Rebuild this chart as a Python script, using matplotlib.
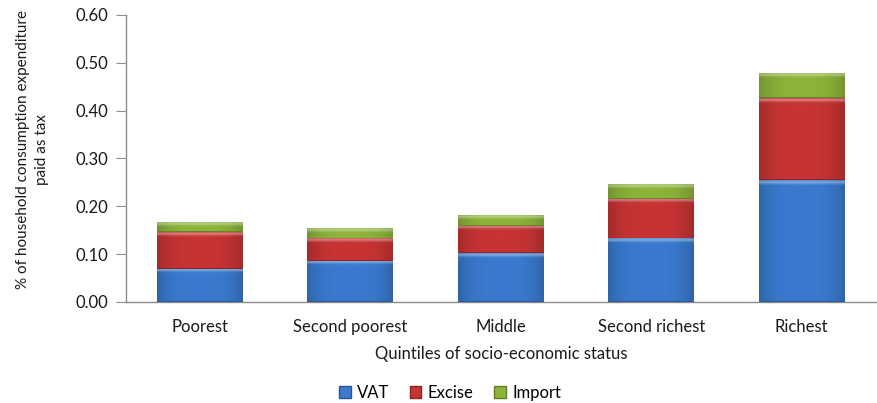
import matplotlib.pyplot as plt
import matplotlib.colors as mcolors
import numpy as np
from matplotlib.patches import Patch

plt.rcParams['font.family'] = ['Lato', 'DejaVu Sans']

quintiles = ['Poorest', 'Second poorest', 'Middle', 'Second richest', 'Richest']
vat = [0.070, 0.086, 0.102, 0.133, 0.255]
excise = [0.076, 0.047, 0.057, 0.082, 0.171]
imports = [0.020, 0.019, 0.022, 0.030, 0.052]

series = [('VAT', vat, '#3a7bd0'),
          ('Excise', excise, '#c83434'),
          ('Import', imports, '#8cb43a')]

fig = plt.figure(figsize=(8.77, 4.03), dpi=100)
ax = fig.add_axes([126 / 877, 101 / 403, 751 / 877, 287 / 403])

width = 0.57
x = np.arange(len(quintiles))


def shaded_bar(ax, xc, bottom, height, color):
    """Bar segment with a soft bevel: dark sides, light top edge."""
    rgb = np.array(mcolors.to_rgb(color))
    left = xc - width / 2
    # shading: darker toward both sides, soft light band at the top
    tx = np.linspace(-1, 1, 64)
    side = 1.0 - 0.18 * np.abs(tx) ** 3
    ny = 80
    ty = np.linspace(0, 1, ny)  # 0 = top row
    top_px = 0.006 / height  # thickness of top band as fraction of segment
    light = 0.35 * np.exp(-((ty - top_px * 0.5) / (top_px * 0.6)) ** 2)
    img = rgb[None, None, :] * side[None, :, None]
    img = img + (1 - img) * light[:, None, None]
    ax.imshow(np.clip(img, 0, 1),
              extent=(left, left + width, bottom, bottom + height),
              aspect='auto', interpolation='bilinear', zorder=2)
    # darker bottom line
    ax.bar(xc, 0.0018, width, bottom, color=rgb * 0.72, linewidth=0, zorder=3)


bottoms = np.zeros(len(quintiles))
for name, vals, col in series:
    for xi, b, v in zip(x, bottoms, vals):
        shaded_bar(ax, xi, b, v, col)
    bottoms += np.array(vals)

ax.set_xlim(-0.49, 4.5)
ax.set_ylim(0, 0.60)
ax.set_yticks(np.arange(0, 0.61, 0.10))
ax.set_yticklabels([f'{v:.2f}' for v in np.arange(0, 0.61, 0.10)])
ax.set_xticks(x)
ax.set_xticklabels(quintiles)

for s in ['top', 'right']:
    ax.spines[s].set_visible(False)
for s in ['left', 'bottom']:
    ax.spines[s].set_color('#8c8c8c')
    ax.spines[s].set_linewidth(1.0)
ax.tick_params(axis='y', direction='out', length=7, color='#8c8c8c',
               labelsize=12, pad=6, labelcolor='#1a1a1a')
ax.tick_params(axis='x', length=0, labelsize=12, pad=12, labelcolor='#1a1a1a')

ax.set_xlabel('Quintiles of socio-economic status', fontsize=12,
              labelpad=8, color='#1a1a1a')
ax.set_ylabel('% of household consumption expenditure\npaid as tax',
              fontsize=11, color='#1a1a1a', linespacing=1.45)
ax.yaxis.set_label_coords(-0.103, 0.53)

handles = [Patch(facecolor=c, edgecolor=np.array(mcolors.to_rgb(c)) * 0.7, label=n)
           for n, _, c in series]
fig.legend(handles=handles, loc='center', bbox_to_anchor=(450 / 877, 1 - 393 / 403),
           ncol=3, frameon=False, fontsize=12, handlelength=0.7, handleheight=0.7,
           handletextpad=0.4, columnspacing=1.2)

fig.savefig('out.png', dpi=100)
